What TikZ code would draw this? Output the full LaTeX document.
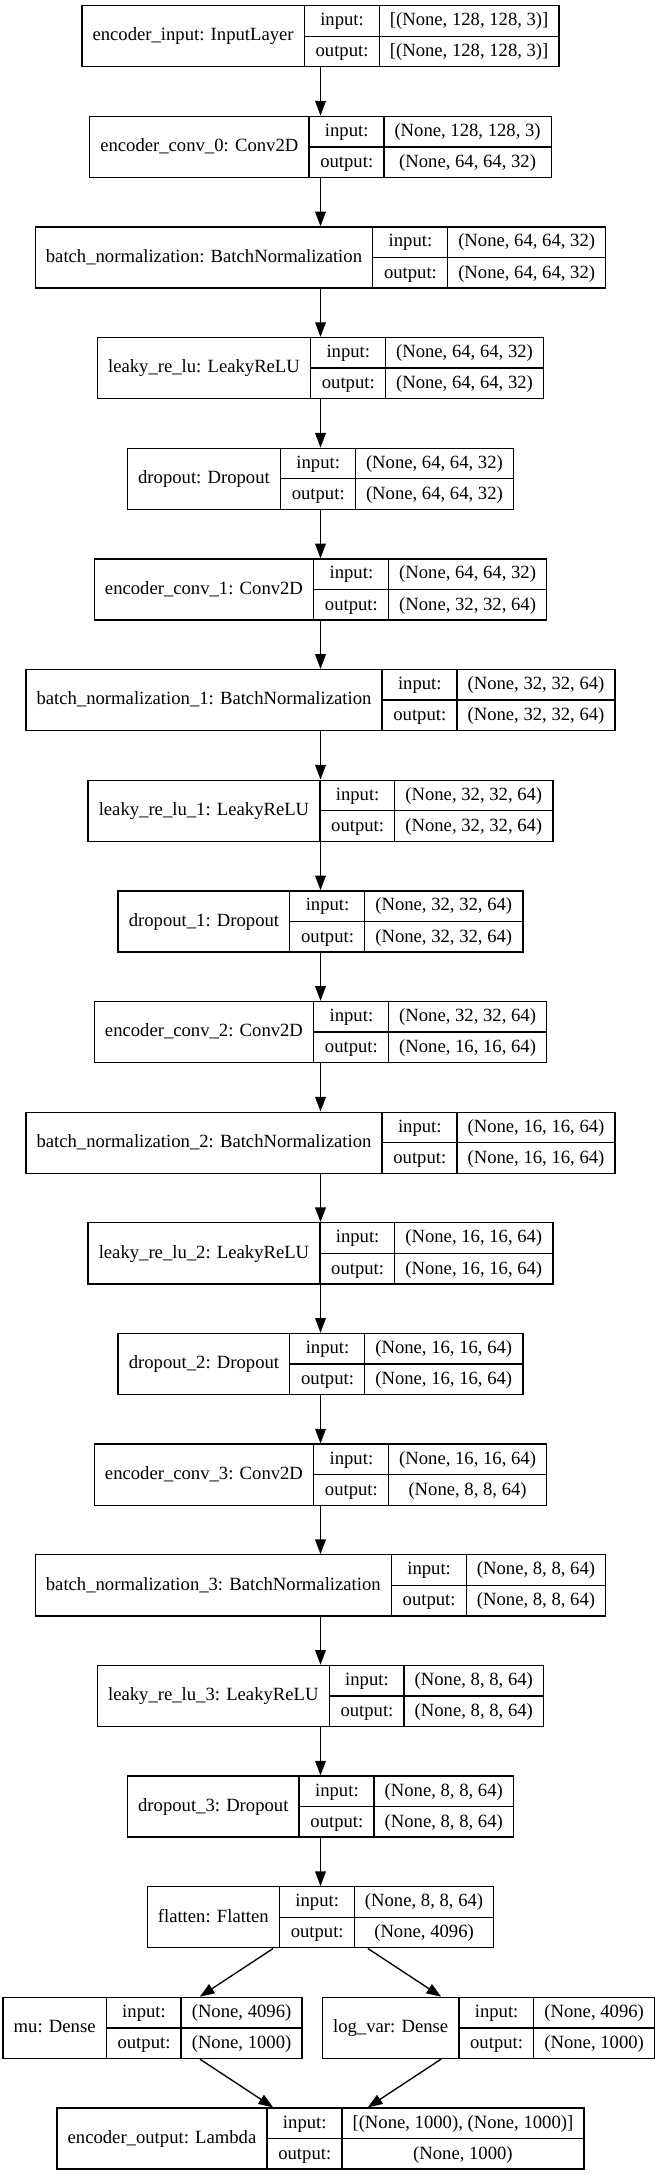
\documentclass[tikz,border=0pt]{standalone}
\usepackage{fontspec}
\setmainfont{Liberation Serif}
\usepackage{tikz}
\usetikzlibrary{arrows.meta,positioning}

\setlength{\tabcolsep}{8bp}
\setlength{\arrayrulewidth}{1bp}
\newcommand{\rowstrut}{\rule[-7.4bp]{0pt}{22.4bp}}
\newcommand{\layerbox}[3]{%
  \begin{tabular}{c|@{}c@{}}
  #1 &
  \begin{tabular}{c|c}
  \rowstrut input: & #2 \\ \hline
  \rowstrut output: & #3
  \end{tabular}
  \end{tabular}}

\begin{document}
\begin{tikzpicture}[x=0.75bp,y=-0.75bp]

\path[fill=white] (0,0) rectangle (658,2176);

\tikzstyle{laybox} = [draw, line width=1bp, inner sep=0pt, font=\fontsize{14.05}{17}\selectfont]
\tikzstyle{myarrow} = [line width=1bp, -{Triangle[length=11bp,width=8bp]}]

\node (inp) [laybox] at (320.5,36.2) {\layerbox{encoder\_input: InputLayer}{[(None, 128, 128, 3)]}{[(None, 128, 128, 3)]}};
\node (conv0) [laybox] at (320.5,146.85) {\layerbox{encoder\_conv\_0: Conv2D}{(None, 128, 128, 3)}{(None, 64, 64, 32)}};
\node (bn0) [laybox] at (320.5,257.5) {\layerbox{batch\_normalization: BatchNormalization}{(None, 64, 64, 32)}{(None, 64, 64, 32)}};
\node (lr0) [laybox] at (320.5,368.15) {\layerbox{leaky\_re\_lu: LeakyReLU}{(None, 64, 64, 32)}{(None, 64, 64, 32)}};
\node (do0) [laybox] at (320.5,478.8) {\layerbox{dropout: Dropout}{(None, 64, 64, 32)}{(None, 64, 64, 32)}};

\node (conv1) [laybox] at (320.5,589.45) {\layerbox{encoder\_conv\_1: Conv2D}{(None, 64, 64, 32)}{(None, 32, 32, 64)}};
\node (bn1) [laybox] at (320.5,700.1) {\layerbox{batch\_normalization\_1: BatchNormalization}{(None, 32, 32, 64)}{(None, 32, 32, 64)}};
\node (lr1) [laybox] at (320.5,810.75) {\layerbox{leaky\_re\_lu\_1: LeakyReLU}{(None, 32, 32, 64)}{(None, 32, 32, 64)}};
\node (do1) [laybox] at (320.5,921.4) {\layerbox{dropout\_1: Dropout}{(None, 32, 32, 64)}{(None, 32, 32, 64)}};

\node (conv2) [laybox] at (320.5,1032.05) {\layerbox{encoder\_conv\_2: Conv2D}{(None, 32, 32, 64)}{(None, 16, 16, 64)}};
\node (bn2) [laybox] at (320.5,1142.7) {\layerbox{batch\_normalization\_2: BatchNormalization}{(None, 16, 16, 64)}{(None, 16, 16, 64)}};
\node (lr2) [laybox] at (320.5,1253.35) {\layerbox{leaky\_re\_lu\_2: LeakyReLU}{(None, 16, 16, 64)}{(None, 16, 16, 64)}};
\node (do2) [laybox] at (320.5,1364.0) {\layerbox{dropout\_2: Dropout}{(None, 16, 16, 64)}{(None, 16, 16, 64)}};

\node (conv3) [laybox] at (320.5,1474.65) {\layerbox{encoder\_conv\_3: Conv2D}{(None, 16, 16, 64)}{(None, 8, 8, 64)}};
\node (bn3) [laybox] at (320.5,1585.3) {\layerbox{batch\_normalization\_3: BatchNormalization}{(None, 8, 8, 64)}{(None, 8, 8, 64)}};
\node (lr3) [laybox] at (320.5,1695.95) {\layerbox{leaky\_re\_lu\_3: LeakyReLU}{(None, 8, 8, 64)}{(None, 8, 8, 64)}};
\node (do3) [laybox] at (320.5,1806.6) {\layerbox{dropout\_3: Dropout}{(None, 8, 8, 64)}{(None, 8, 8, 64)}};

\node (flat) [laybox] at (320.5,1917.25) {\layerbox{flatten: Flatten}{(None, 8, 8, 64)}{(None, 4096)}};
\node (mu) [laybox] at (152.5,2027.9) {\layerbox{mu: Dense}{(None, 4096)}{(None, 1000)}};
\node (lv) [laybox] at (488.5,2027.9) {\layerbox{log\_var: Dense}{(None, 4096)}{(None, 1000)}};
\node (out) [laybox] at (320.5,2138.55) {\layerbox{encoder\_output: Lambda}{[(None, 1000), (None, 1000)]}{(None, 1000)}};

\draw [myarrow] (inp) -- (conv0);
\draw [myarrow] (conv0) -- (bn0);
\draw [myarrow] (bn0) -- (lr0);
\draw [myarrow] (lr0) -- (do0);
\draw [myarrow] (do0) -- (conv1);
\draw [myarrow] (conv1) -- (bn1);
\draw [myarrow] (bn1) -- (lr1);
\draw [myarrow] (lr1) -- (do1);
\draw [myarrow] (do1) -- (conv2);
\draw [myarrow] (conv2) -- (bn2);
\draw [myarrow] (bn2) -- (lr2);
\draw [myarrow] (lr2) -- (do2);
\draw [myarrow] (do2) -- (conv3);
\draw [myarrow] (conv3) -- (bn3);
\draw [myarrow] (bn3) -- (lr3);
\draw [myarrow] (lr3) -- (do3);
\draw [myarrow] (do3) -- (flat);
\draw [myarrow] (flat) -- (mu);
\draw [myarrow] (flat) -- (lv);
\draw [myarrow] (mu) -- (out);
\draw [myarrow] (lv) -- (out);

\end{tikzpicture}
\end{document}
